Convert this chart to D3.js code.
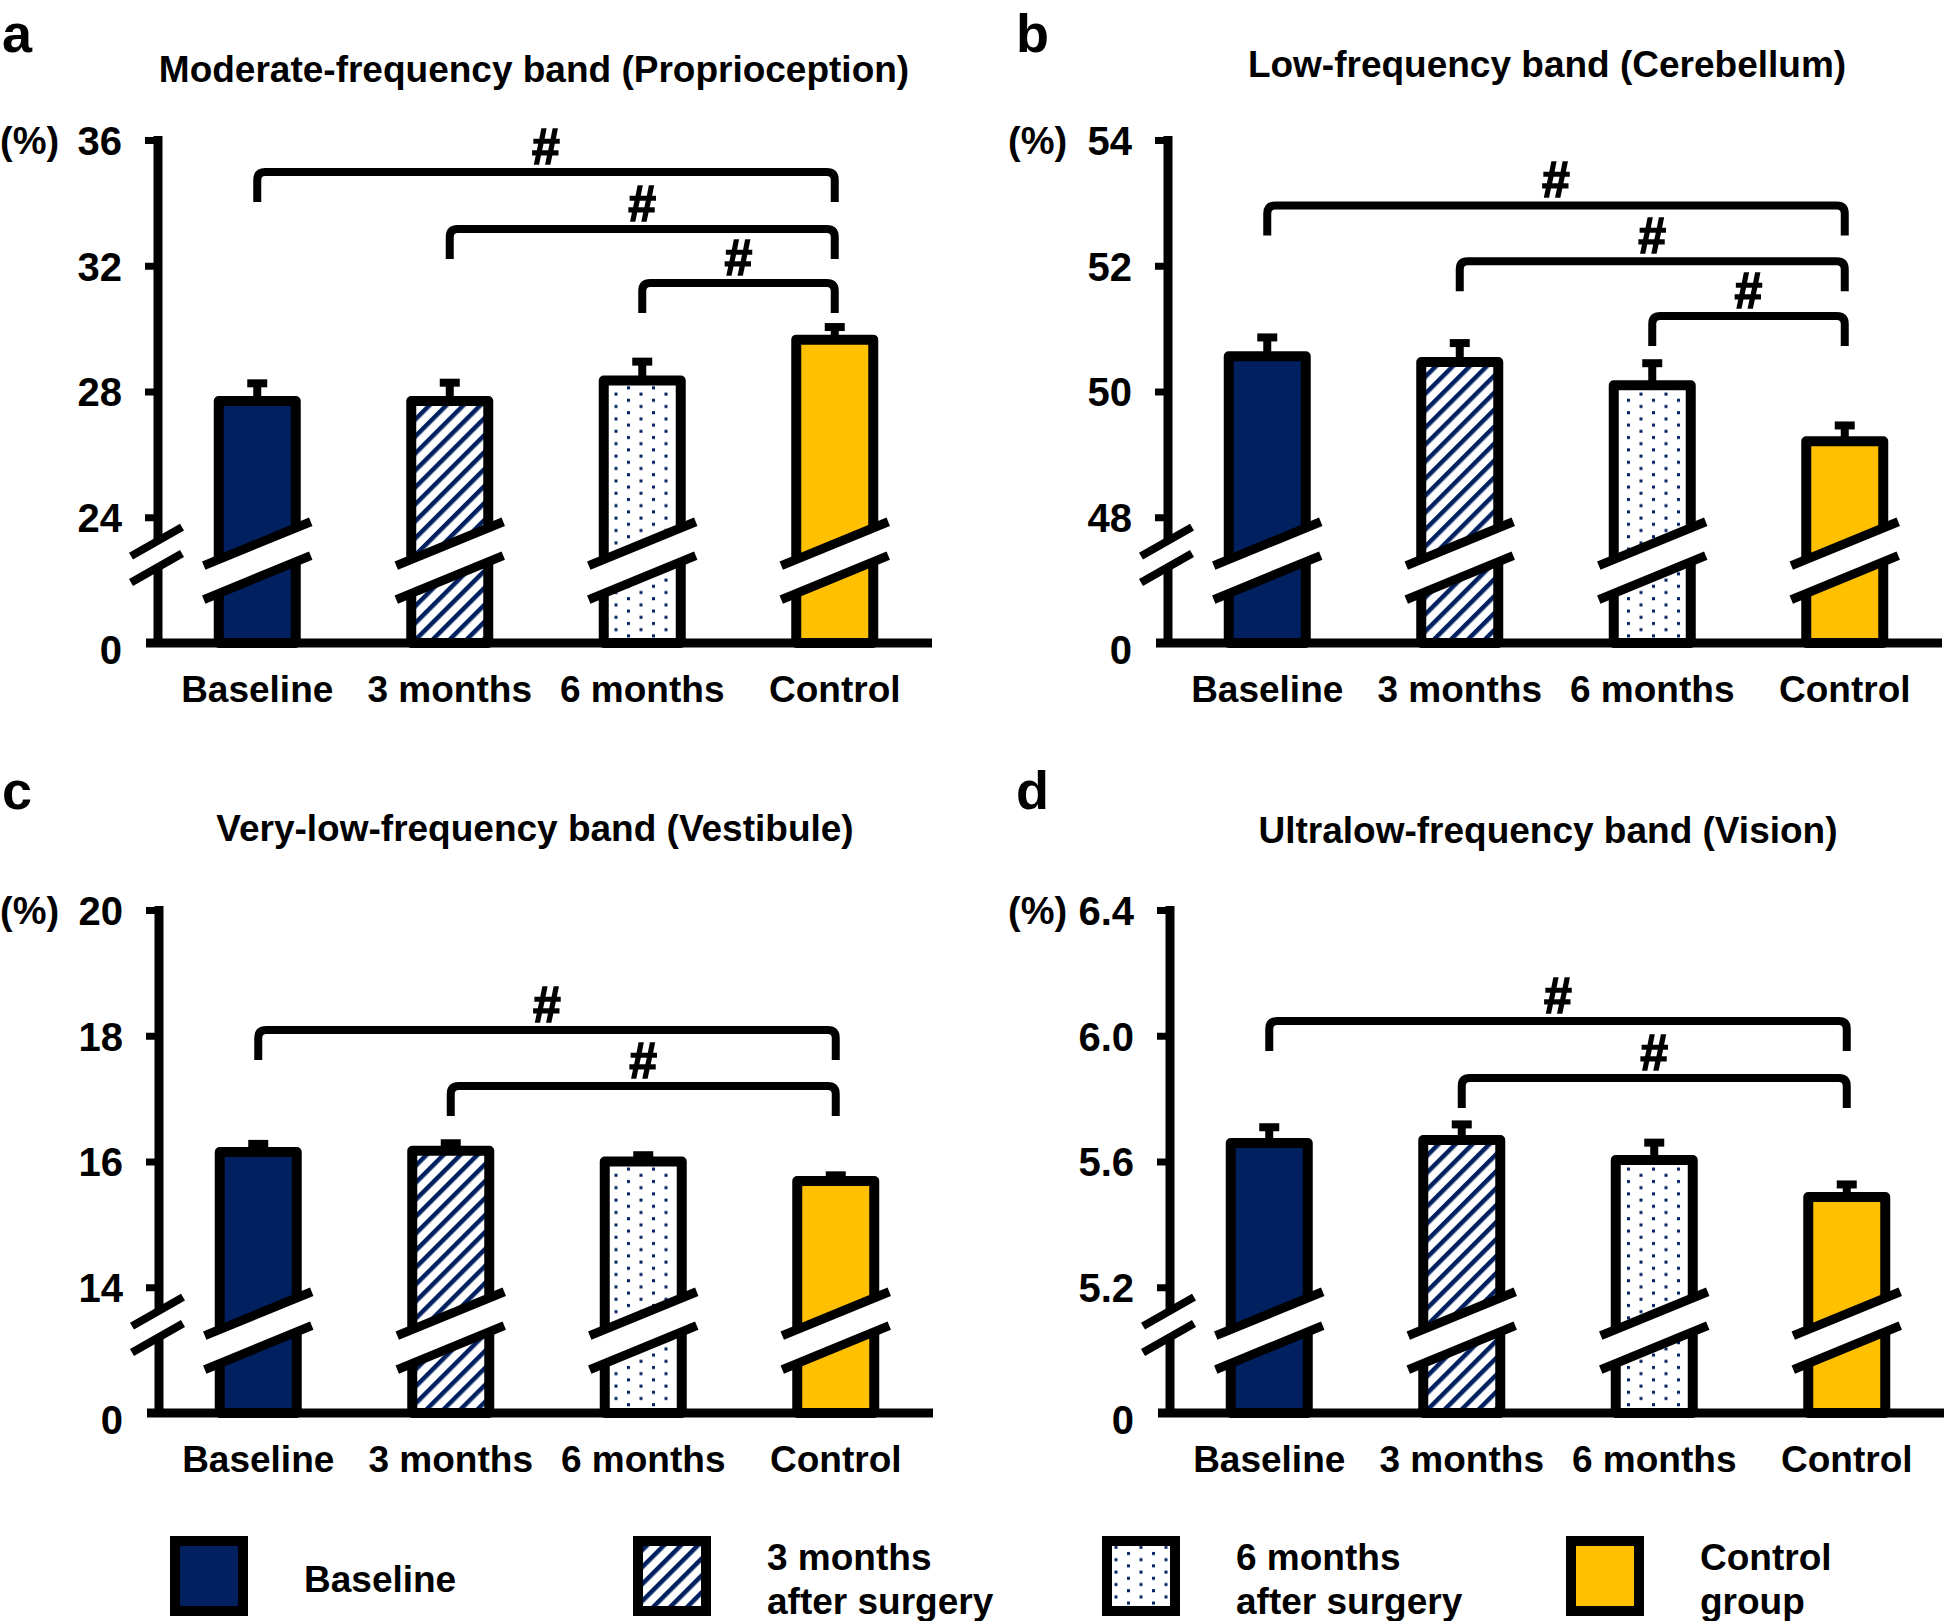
<!DOCTYPE html>
<html>
<head>
<meta charset="utf-8">
<script src="https://cdn.jsdelivr.net/npm/d3@7/dist/d3.min.js"></script>
<style>
    body { margin: 0; background: #fff; }
    text { font-family: "Liberation Sans", Arial, sans-serif; font-weight: bold; fill: #000; }
</style>
</head>
<body>
<script>
// 数据
const categories = ['Baseline', '3 months', '6 months', 'Control'];
const legendLabels = [['Baseline'], ['3 months', 'after surgery'], ['6 months', 'after surgery'], ['Control', 'group']];
const panelLetters = ['a', 'b', 'c', 'd'];
const panelTitles = [
    'Moderate-frequency band (Proprioception)',
    'Low-frequency band (Cerebellum)',
    'Very-low-frequency band (Vestibule)',
    'Ultralow-frequency band (Vision)'
];

// y轴刻度 (最下面一格是断轴, 标为0)
const ticksA = [24, 28, 32, 36];
const ticksB = [48, 50, 52, 54];
const ticksC = [14, 16, 18, 20];
const ticksD = [5.2, 5.6, 6.0, 6.4];

// 均值
const meanA = [27.7, 27.7, 28.35, 29.65];
const meanB = [50.56, 50.47, 50.1, 49.21];
const meanC = [16.15, 16.17, 16.0, 15.69];
const meanD = [5.659, 5.668, 5.605, 5.487];

// 误差
const semA = [0.56, 0.58, 0.6, 0.4];
const semB = [0.3, 0.3, 0.35, 0.25];
const semC = [0.13, 0.12, 0.1, 0.09];
const semD = [0.05, 0.05, 0.055, 0.04];

// 显著性括号 [起, 止, 高度]
const bracketsA = [[0, 3, 34.98], [1, 3, 33.17], [2, 3, 31.45]];
const bracketsB = [[0, 3, 52.96], [1, 3, 52.07], [2, 3, 51.2]];
const bracketsC = [[0, 3, 18.09], [1, 3, 17.2]];
const bracketsD = [[0, 3, 6.047], [1, 3, 5.866]];

const width = 1946;
const height = 1621;
const navy = '#002060';
const gold = '#FFC000';

const svg = d3.select('body')
    .append('svg')
    .attr('width', width)
    .attr('height', height);

// 填充图案
const defs = svg.append('defs');
const hatch = defs.append('pattern')
    .attr('id', 'hatch')
    .attr('patternUnits', 'userSpaceOnUse')
    .attr('width', 12)
    .attr('height', 12)
    .attr('patternTransform', 'rotate(45)');
hatch.append('rect').attr('width', 12).attr('height', 12).attr('fill', '#fff');
hatch.append('rect').attr('width', 4.5).attr('height', 12).attr('fill', navy);

const dots = defs.append('pattern')
    .attr('id', 'dots')
    .attr('patternUnits', 'userSpaceOnUse')
    .attr('width', 25)
    .attr('height', 12.4);
dots.append('rect').attr('width', 25).attr('height', 12.4).attr('fill', '#fff');
dots.append('rect').attr('x', 2).attr('y', 2).attr('width', 3).attr('height', 3).attr('fill', navy);
dots.append('rect').attr('x', 14.5).attr('y', 8.2).attr('width', 3).attr('height', 3).attr('fill', navy);

const fills = [navy, 'url(#hatch)', 'url(#dots)', gold];

// 面板
const panels = [
    {letter: [2, 52], title: [534, 82], pct: 0, x0: 158, top: 140, bottom: 643, ticks: ticksA, mean: meanA, sem: semA, brackets: bracketsA, fmt: d3.format('d')},
    {letter: [1016, 52], title: [1547, 77], pct: 1008, x0: 1168, top: 140, bottom: 643, ticks: ticksB, mean: meanB, sem: semB, brackets: bracketsB, fmt: d3.format('d')},
    {letter: [2, 809], title: [535, 841], pct: 0, x0: 159, top: 910, bottom: 1413, ticks: ticksC, mean: meanC, sem: semC, brackets: bracketsC, fmt: d3.format('d')},
    {letter: [1016, 809], title: [1548, 843], pct: 1008, x0: 1170, top: 910, bottom: 1413, ticks: ticksD, mean: meanD, sem: semD, brackets: bracketsD, fmt: d3.format('.1f')}
];

panels.forEach((p, pi) => {
    const step = p.ticks[1] - p.ticks[0];
    const lo = p.ticks[0] - step;
    const hi = p.ticks[p.ticks.length - 1];

    const xScale = d3.scaleBand()
        .domain(categories)
        .range([p.x0 + 3, p.x0 + 773])
        .paddingInner(0.6)
        .paddingOuter(0.3);

    const yScale = d3.scaleLinear()
        .domain([lo, hi])
        .range([p.bottom, p.top]);

    const g = svg.append('g');

    // 标题
    g.append('text')
        .attr('x', p.letter[0])
        .attr('y', p.letter[1])
        .attr('font-size', 54)
        .text(panelLetters[pi]);

    g.append('text')
        .attr('x', p.title[0])
        .attr('y', p.title[1])
        .attr('text-anchor', 'middle')
        .attr('font-size', 37)
        .text(panelTitles[pi]);

    g.append('text')
        .attr('x', p.pct)
        .attr('y', p.top + 14)
        .attr('font-size', 38)
        .text('(%)');

    // 柱子
    const bw = xScale.bandwidth();
    g.selectAll('rect.bar')
        .data(p.mean)
        .enter()
        .append('rect')
        .attr('class', 'bar')
        .attr('x', (d, i) => xScale(categories[i]))
        .attr('y', d => yScale(d))
        .attr('width', bw)
        .attr('height', d => p.bottom - yScale(d))
        .attr('fill', (d, i) => fills[i])
        .attr('stroke', '#000')
        .attr('stroke-width', 10)
        .attr('stroke-linejoin', 'round');

    // 误差线
    p.mean.forEach((m, i) => {
        const cx = xScale(categories[i]) + bw / 2;
        const yTop = yScale(m + p.sem[i]);
        g.append('line')
            .attr('x1', cx).attr('x2', cx)
            .attr('y1', yScale(m) - 4).attr('y2', yTop)
            .attr('stroke', '#000').attr('stroke-width', 8);
        g.append('line')
            .attr('x1', cx - 10).attr('x2', cx + 10)
            .attr('y1', yTop).attr('y2', yTop)
            .attr('stroke', '#000').attr('stroke-width', 8);
    });

    // 柱子断裂
    const yU = yScale(p.ticks[0] - step * 0.21);
    const yL = yScale(p.ticks[0] - step * 0.48);
    const k = 0.41;
    categories.forEach(c => {
        const cx = xScale(c) + bw / 2;
        const h = bw / 2 + 15;
        g.append('path')
            .attr('d', 'M' + (cx - h) + ',' + (yU + k * h) + 'L' + (cx + h) + ',' + (yU - k * h)
                + 'L' + (cx + h) + ',' + (yL - k * h) + 'L' + (cx - h) + ',' + (yL + k * h) + 'Z')
            .attr('fill', '#fff');
        [yU, yL].forEach(yy => {
            g.append('line')
                .attr('x1', cx - h).attr('y1', yy + k * h)
                .attr('x2', cx + h).attr('y2', yy - k * h)
                .attr('stroke', '#000').attr('stroke-width', 9);
        });
    });

    // y轴
    const yAxis = d3.axisLeft(yScale)
        .tickValues([lo].concat(p.ticks))
        .tickSize(13)
        .tickPadding(23)
        .tickFormat(d => d === lo ? '0' : p.fmt(d));

    const ax = g.append('g')
        .attr('transform', 'translate(' + p.x0 + ', 0)')
        .call(yAxis);
    ax.select('.domain').remove();
    ax.selectAll('.tick line')
        .attr('stroke', '#000')
        .attr('stroke-width', 7)
        .attr('display', d => d === lo ? 'none' : null);
    ax.selectAll('.tick text')
        .attr('font-size', 40)
        .attr('font-family', null)
        .attr('fill', '#000')
        .attr('dy', d => d === lo ? '0.5em' : '0.36em');

    // y轴断开
    const yS1 = yScale(p.ticks[0] - step * 0.19);
    const yS2 = yScale(p.ticks[0] - step * 0.40);
    g.append('line')
        .attr('x1', p.x0).attr('x2', p.x0)
        .attr('y1', p.top - 4).attr('y2', yS1)
        .attr('stroke', '#000').attr('stroke-width', 9);
    g.append('line')
        .attr('x1', p.x0).attr('x2', p.x0)
        .attr('y1', yS2).attr('y2', p.bottom)
        .attr('stroke', '#000').attr('stroke-width', 9);
    [yS1, yS2].forEach(yy => {
        g.append('line')
            .attr('x1', p.x0 - 27).attr('y1', yy + 15)
            .attr('x2', p.x0 + 24).attr('y2', yy - 14)
            .attr('stroke', '#000').attr('stroke-width', 8);
    });

    // x轴
    g.append('line')
        .attr('x1', p.x0 - 12).attr('x2', p.x0 + 774)
        .attr('y1', p.bottom).attr('y2', p.bottom)
        .attr('stroke', '#000').attr('stroke-width', 9);

    g.selectAll('text.cat')
        .data(categories)
        .enter()
        .append('text')
        .attr('class', 'cat')
        .attr('x', d => xScale(d) + bw / 2)
        .attr('y', p.bottom + 59)
        .attr('text-anchor', 'middle')
        .attr('font-size', 37)
        .text(d => d);

    // 显著性括号
    p.brackets.forEach(b => {
        const xl = xScale(categories[b[0]]) + bw / 2;
        const xr = xScale(categories[b[1]]) + bw / 2;
        const yy = yScale(b[2]);
        const r = 8;
        g.append('path')
            .attr('d', 'M' + xl + ',' + (yy + 30) + 'L' + xl + ',' + (yy + r)
                + 'Q' + xl + ',' + yy + ' ' + (xl + r) + ',' + yy
                + 'L' + (xr - r) + ',' + yy
                + 'Q' + xr + ',' + yy + ' ' + xr + ',' + (yy + r)
                + 'L' + xr + ',' + (yy + 30))
            .attr('fill', 'none')
            .attr('stroke', '#000')
            .attr('stroke-width', 8);
        g.append('text')
            .attr('x', (xl + xr) / 2)
            .attr('y', yy - 8)
            .attr('text-anchor', 'middle')
            .attr('font-size', 50)
            .attr('stroke', '#000')
            .attr('stroke-width', 1.5)
            .text('#');
    });
});

// 图例
const legendX = [170, 633, 1102, 1566];
const legend = svg.append('g');
legendLabels.forEach((lines, i) => {
    legend.append('rect')
        .attr('x', legendX[i] + 5)
        .attr('y', 1541)
        .attr('width', 68)
        .attr('height', 70)
        .attr('fill', fills[i])
        .attr('stroke', '#000')
        .attr('stroke-width', 10);
    lines.forEach((t, j) => {
        legend.append('text')
            .attr('x', legendX[i] + 134)
            .attr('y', lines.length === 1 ? 1592 : 1570 + j * 44)
            .attr('font-size', 37)
            .text(t);
    });
});
</script>
</body>
</html>
